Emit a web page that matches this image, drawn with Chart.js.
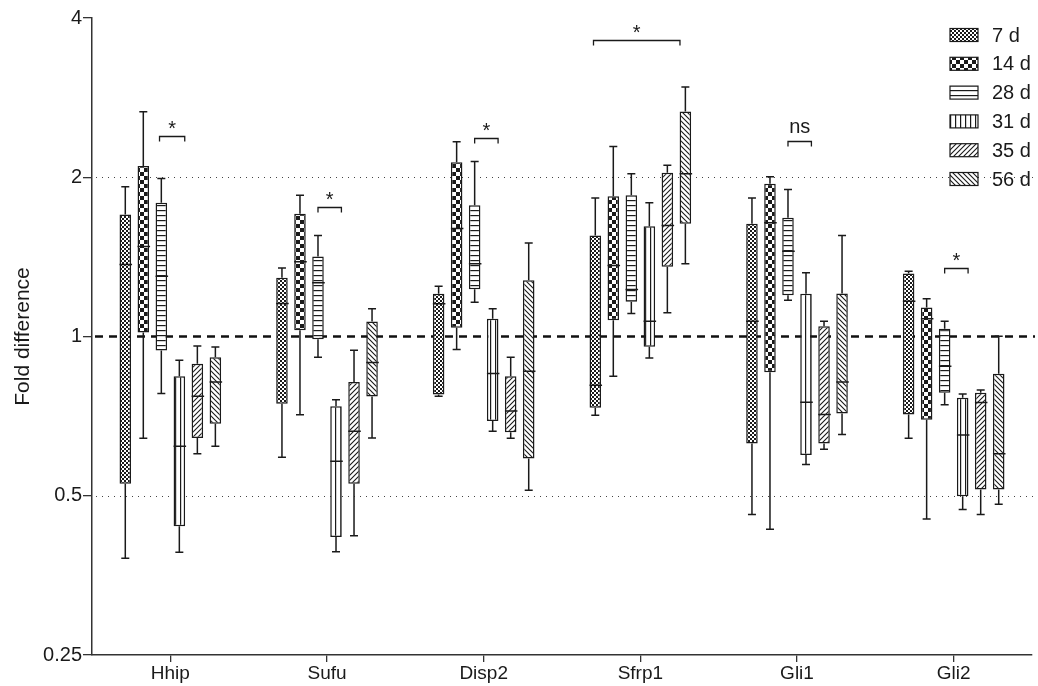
<!DOCTYPE html>
<html lang="en">
<head>
<meta charset="UTF-8">
<title>Fold difference box plot</title>
<script src="https://cdn.jsdelivr.net/npm/chart.js"></script>
<style>
    body { margin: 0; background: #fff; }
    .wrap { width: 1038px; height: 686px; position: relative; }
</style>
</head>
<body>
<div class="wrap"><canvas id="boxChart"></canvas></div>
<script>
// genes on the x axis
const genes = ['Hhip', 'Sufu', 'Disp2', 'Sfrp1', 'Gli1', 'Gli2'];
const seriesNames = ['7 d', '14 d', '28 d', '31 d', '35 d', '56 d'];
const yTicks = [0.25, 0.5, 1, 2, 4];

// each row: [min, q1, median, q3, max], one row per gene
const day7 = [[0.381, 0.527, 1.368, 1.70, 1.92], [0.591, 0.746, 1.154, 1.291, 1.348], [0.771, 0.777, 1.153, 1.204, 1.245],
              [0.710, 0.733, 0.809, 1.552, 1.828], [0.461, 0.628, 1.069, 1.633, 1.828], [0.642, 0.712, 1.166, 1.315, 1.329]];
const day14 = [[0.642, 1.018, 1.48, 2.10, 2.66], [0.711, 1.028, 1.384, 1.706, 1.849], [0.945, 1.039, 1.60, 2.135, 2.333],
               [0.841, 1.073, 1.362, 1.841, 2.286], [0.432, 0.856, 1.640, 1.944, 2.004], [0.452, 0.696, 1.080, 1.135, 1.178]];
const day28 = [[0.78, 0.941, 1.30, 1.79, 1.99], [0.914, 0.988, 1.263, 1.416, 1.552], [1.161, 1.228, 1.372, 1.771, 2.142],
               [1.105, 1.163, 1.227, 1.849, 2.030], [1.171, 1.197, 1.45, 1.676, 1.896], [0.743, 0.783, 0.879, 1.034, 1.069]];
const day31 = [[0.391, 0.438, 0.620, 0.841, 0.902], [0.392, 0.418, 0.581, 0.738, 0.759], [0.662, 0.692, 0.851, 1.080, 1.128],
               [0.911, 0.956, 1.069, 1.616, 1.789], [0.573, 0.597, 0.751, 1.204, 1.320], [0.471, 0.499, 0.651, 0.766, 0.779]];
const day35 = [[0.600, 0.643, 0.771, 0.888, 0.959], [0.420, 0.527, 0.662, 0.820, 0.942], [0.642, 0.659, 0.723, 0.841, 0.914],
               [1.109, 1.355, 1.621, 2.039, 2.107], [0.612, 0.628, 0.712, 1.046, 1.069], [0.461, 0.514, 0.750, 0.783, 0.792]];
const day56 = [[0.620, 0.684, 0.820, 0.914, 0.955], [0.643, 0.770, 0.893, 1.067, 1.128], [0.512, 0.588, 0.860, 1.278, 1.503],
               [1.372, 1.633, 2.030, 2.662, 2.963], [0.653, 0.715, 0.820, 1.206, 1.552], [0.482, 0.514, 0.600, 0.850, 1.001]];
const allSeries = [day7, day14, day28, day31, day35, day56];
const patternTypes = ['fine', 'checker', 'hlines', 'vlines', 'diag', 'anti'];

// significance brackets (span given in series-index units inside a gene group)
const sigGene = [0, 1, 2, 3, 4, 5];
const sigFrom = [1.9, 2, 2, -0.1, 2, 2];
const sigTo = [3.3, 3.3, 3.3, 4.7, 3.3, 3.3];
const sigLevel = [2.39, 1.76, 2.37, 3.63, 2.34, 1.35];
const sigLabel = ['*', '*', '*', '*', 'ns', '*'];

const refDotted = [2, 0.5];
const refDashed = 1;

const ink = '#1a1a1a';
const font = "'Liberation Sans', Arial, sans-serif";

function makePattern(type) {
    const c = document.createElement('canvas');
    const ctx = c.getContext('2d');
    let s = 5;
    if (type === 'fine') s = 4;
    if (type === 'checker') s = 8;
    c.width = s; c.height = s;
    ctx.fillStyle = '#fff';
    ctx.fillRect(0, 0, s, s);
    ctx.fillStyle = ink;
    ctx.strokeStyle = ink;
    ctx.lineWidth = 1.1;
    if (type === 'fine' || type === 'checker') {
        const h = s / 2;
        ctx.fillRect(0, 0, h, h);
        ctx.fillRect(h, h, h, h);
    } else if (type === 'hlines') {
        ctx.fillRect(0, 0, s, 1.2);
    } else if (type === 'vlines') {
        ctx.fillRect(0, 0, 1.2, s);
    } else if (type === 'diag') {
        ctx.beginPath();
        ctx.moveTo(-1, s + 1); ctx.lineTo(s + 1, -1);
        ctx.moveTo(-1, 1); ctx.lineTo(1, -1);
        ctx.moveTo(s - 1, s + 1); ctx.lineTo(s + 1, s - 1);
        ctx.stroke();
    } else {
        ctx.beginPath();
        ctx.moveTo(-1, -1); ctx.lineTo(s + 1, s + 1);
        ctx.moveTo(s - 1, -1); ctx.lineTo(s + 1, 1);
        ctx.moveTo(-1, s - 1); ctx.lineTo(1, s + 1);
        ctx.stroke();
    }
    return document.createElement('canvas').getContext('2d').createPattern(c, 'repeat');
}

const patterns = patternTypes.map(makePattern);

const boxPlugin = {
    id: 'boxExtras',
    beforeDatasetsDraw(chart) {
        const { ctx, chartArea, scales } = chart;
        const y = scales.y;
        ctx.save();
        ctx.strokeStyle = '#444';
        ctx.lineWidth = 1;
        ctx.setLineDash([1, 5]);
        refDotted.forEach(v => {
            const py = Math.round(y.getPixelForValue(v)) + 0.5;
            ctx.beginPath();
            ctx.moveTo(chartArea.left + 4, py);
            ctx.lineTo(chartArea.right + 3, py);
            ctx.stroke();
        });
        ctx.strokeStyle = '#111';
        ctx.lineWidth = 2.5;
        ctx.setLineDash([8, 6]);
        const py1 = y.getPixelForValue(refDashed);
        ctx.beginPath();
        ctx.moveTo(chartArea.left + 3, py1);
        ctx.lineTo(chartArea.right + 3, py1);
        ctx.stroke();
        ctx.restore();
    },
    afterDatasetsDraw(chart) {
        const { ctx, scales } = chart;
        const y = scales.y;
        ctx.save();
        ctx.strokeStyle = ink;
        ctx.lineWidth = 1.5;
        // whiskers and medians
        allSeries.forEach((rows, si) => {
            const meta = chart.getDatasetMeta(si);
            meta.data.forEach((bar, gi) => {
                const r = rows[gi];
                const x = bar.x;
                const half = bar.width / 2;
                const cap = 4;
                const pMin = y.getPixelForValue(r[0]);
                const pQ1 = y.getPixelForValue(r[1]);
                const pMed = y.getPixelForValue(r[2]);
                const pQ3 = y.getPixelForValue(r[3]);
                const pMax = y.getPixelForValue(r[4]);
                ctx.beginPath();
                ctx.moveTo(x, pQ3); ctx.lineTo(x, pMax);
                ctx.moveTo(x - cap, pMax); ctx.lineTo(x + cap, pMax);
                ctx.moveTo(x, pQ1); ctx.lineTo(x, pMin);
                ctx.moveTo(x - cap, pMin); ctx.lineTo(x + cap, pMin);
                ctx.moveTo(x - half, pMed); ctx.lineTo(x + half + 1, pMed);
                ctx.stroke();
            });
        });
        // significance brackets
        const m0 = chart.getDatasetMeta(0).data;
        const m1 = chart.getDatasetMeta(1).data;
        const pitch = m1[0].x - m0[0].x;
        ctx.lineWidth = 1.3;
        ctx.fillStyle = ink;
        ctx.textAlign = 'center';
        ctx.textBaseline = 'middle';
        ctx.font = '20px ' + font;
        sigGene.forEach((g, i) => {
            const x1 = m0[g].x + sigFrom[i] * pitch;
            const x2 = m0[g].x + sigTo[i] * pitch;
            const py = Math.round(y.getPixelForValue(sigLevel[i])) + 0.5;
            ctx.beginPath();
            ctx.moveTo(x1, py + 5); ctx.lineTo(x1, py); ctx.lineTo(x2, py); ctx.lineTo(x2, py + 5);
            ctx.stroke();
            const lift = sigLabel[i] === '*' ? 7 : 14;
            ctx.fillText(sigLabel[i], (x1 + x2) / 2, py - lift);
        });
        // legend
        ctx.textAlign = 'left';
        ctx.font = '20px ' + font;
        ctx.lineWidth = 1.2;
        seriesNames.forEach((name, i) => {
            const cy = 35 + i * 28.8;
            ctx.fillStyle = patterns[i];
            ctx.fillRect(950, cy - 6.5, 28, 13);
            ctx.strokeRect(950, cy - 6.5, 28, 13);
            ctx.fillStyle = ink;
            ctx.fillText(name, 992, cy + 1);
        });
        ctx.restore();
    }
};

const chart = new Chart(document.getElementById('boxChart'), {
    type: 'bar',
    data: {
        labels: genes,
        datasets: allSeries.map((rows, i) => ({
            label: seriesNames[i],
            data: rows.map(r => [r[1], r[3]]),
            backgroundColor: patterns[i],
            borderColor: ink,
            borderWidth: 1.5,
            borderSkipped: false,
            barPercentage: 0.64,
            categoryPercentage: 0.69
        }))
    },
    options: {
        responsive: true,
        maintainAspectRatio: false,
        animation: false,
        layout: { padding: { top: 18, right: 6, left: 0, bottom: 0 } },
        plugins: {
            legend: { display: false },
            tooltip: { enabled: false }
        },
        scales: {
            x: {
                grid: { drawOnChartArea: false, offset: false, tickLength: 7, color: '#333', lineWidth: 1.3 },
                border: { color: '#333', width: 1.5 },
                ticks: { color: ink, font: { family: font, size: 19 }, padding: 0 },
                afterFit: s => { s.height = 31; }
            },
            y: {
                type: 'logarithmic',
                min: 0.25,
                max: 4,
                afterBuildTicks: s => { s.ticks = yTicks.map(v => ({ value: v })); },
                grid: { drawOnChartArea: false, tickLength: 9, color: '#333', lineWidth: 1.3 },
                border: { color: '#333', width: 1.5 },
                ticks: {
                    color: ink,
                    font: { family: font, size: 20 },
                    padding: 1,
                    callback: v => String(v)
                },
                title: {
                    display: true,
                    text: 'Fold difference',
                    color: ink,
                    font: { family: font, size: 21 },
                    padding: { top: 11, bottom: 0 }
                },
                afterFit: s => { s.width = 92; }
            }
        }
    },
    plugins: [boxPlugin]
});
</script>
</body>
</html>
